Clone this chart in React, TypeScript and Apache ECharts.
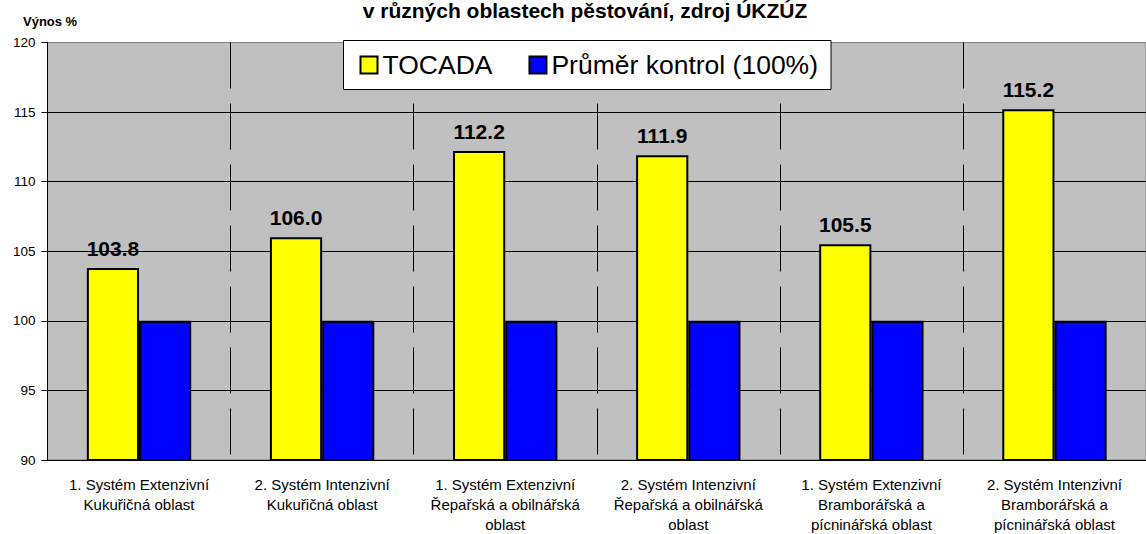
import React, { useEffect, useRef } from "react";
import * as echarts from "echarts";

const categories = [
  "1. Systém Extenzivní\nKukuřičná oblast",
  "2. Systém Intenzivní\nKukuřičná oblast",
  "1. Systém Extenzivní\nŘepařská a obilnářská\noblast",
  "2. Systém Intenzivní\nŘepařská a obilnářská\noblast",
  "1. Systém Extenzivní\nBramborářská a\npícninářská oblast",
  "2. Systém Intenzivní\nBramborářská a\npícninářská oblast",
];
const tocadaValues = [103.8, 106.0, 112.2, 111.9, 105.5, 115.2];
const controlValues = [100, 100, 100, 100, 100, 100];
const seriesNames = ["TOCADA", "Průměr kontrol (100%)"];
const yMin = 90;
const yMax = 120;
const yInterval = 5;
const titleText = "v různých oblastech pěstování, zdroj ÚKZÚZ";
const yAxisName = "Výnos %";

const FONT = "'Liberation Sans', Arial, sans-serif";

export default function App() {
  const ref = useRef<HTMLDivElement>(null);
  useEffect(() => {
    document.body.style.margin = "0";
    const chart = echarts.init(ref.current!, null, { renderer: "svg" });
    chart.setOption({
      animation: false,
      backgroundColor: "#ffffff",
      textStyle: { fontFamily: FONT, color: "#000" },
      graphic: [
        {
          type: "text",
          x: 585,
          y: 0,
          style: {
            text: titleText,
            fill: "#000",
            font: `bold 21px ${FONT}`,
            textAlign: "center",
            textVerticalAlign: "top",
          },
        },
        {
          type: "text",
          x: 23,
          y: 15,
          style: {
            text: yAxisName,
            fill: "#000",
            font: `bold 13px ${FONT}`,
            textAlign: "left",
            textVerticalAlign: "top",
          },
        },
      ],
      legend: {
        left: 343.5,
        top: 40.5,
        icon: "rect",
        itemWidth: 17,
        itemHeight: 17,
        itemGap: 36,
        padding: [11, 13, 11, 16],
        backgroundColor: "#ffffff",
        borderColor: "#000",
        borderWidth: 1,
        textStyle: { fontSize: 26.5, color: "#000", fontFamily: FONT },
        data: seriesNames,
      },
      grid: {
        left: 47.5,
        top: 42.5,
        width: 1112,
        height: 420,
        show: true,
        backgroundColor: "#C0C0C0",
        borderColor: "#808080",
        borderWidth: 1,
      },
      xAxis: {
        type: "category",
        data: categories,
        axisLine: { lineStyle: { color: "#000", width: 1 } },
        axisTick: { alignWithLabel: true, length: 5, lineStyle: { color: "#000" } },
        axisLabel: {
          interval: 0,
          fontSize: 15,
          color: "#000",
          lineHeight: 20,
          margin: 14,
          fontFamily: FONT,
        },
        splitLine: {
          show: true,
          interval: 0,
          lineStyle: { color: "#000", width: 1, type: [46, 15] },
        },
      },
      yAxis: {
        type: "value",
        min: yMin,
        max: yMax,
        interval: yInterval,
        axisLine: { show: true, lineStyle: { color: "#000", width: 1 } },
        axisTick: { show: true, length: 6, lineStyle: { color: "#000" } },
        axisLabel: { fontSize: 13.5, color: "#000", margin: 12, fontFamily: FONT },
        splitLine: { show: true, showMaxLine: false, lineStyle: { color: "#000", width: 1 } },
      },
      series: [
        {
          name: seriesNames[0],
          type: "bar",
          data: tocadaValues,
          barGap: "0%",
          barCategoryGap: "43%",
          itemStyle: { color: "#FFFF00", borderColor: "#000", borderWidth: 2 },
          label: {
            show: true,
            position: "top",
            distance: 9,
            fontSize: 21,
            fontWeight: "bold",
            color: "#000",
            fontFamily: FONT,
            formatter: (p: any) => Number(p.value).toFixed(1),
          },
        },
        {
          name: seriesNames[1],
          type: "bar",
          data: controlValues,
          barGap: "0%",
          barCategoryGap: "43%",
          itemStyle: { color: "#0000FF", borderColor: "#000", borderWidth: 2 },
        },
      ],
    });
    return () => chart.dispose();
  }, []);
  return (
    <div
      ref={ref}
      style={{ position: "absolute", left: 0, top: 0, width: 1146, height: 534 }}
    />
  );
}
